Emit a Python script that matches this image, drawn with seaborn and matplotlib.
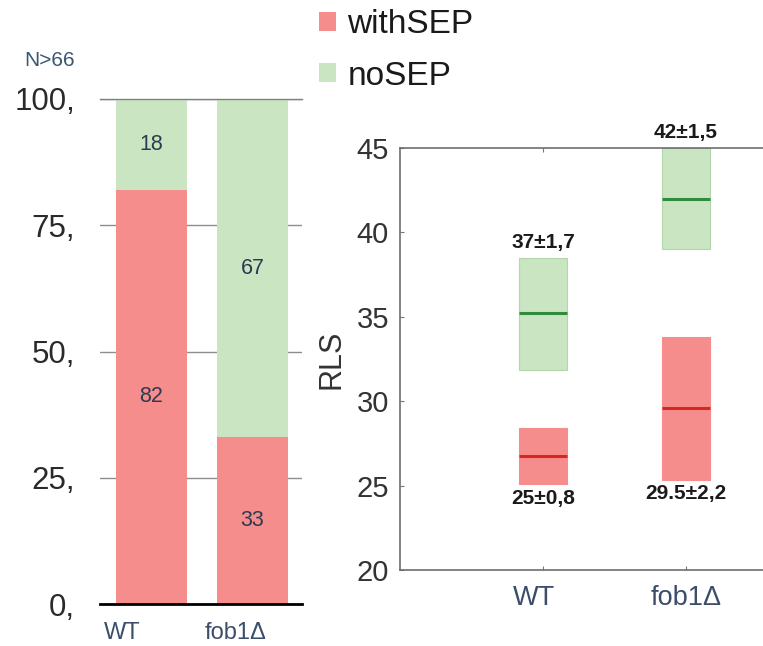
import matplotlib
matplotlib.use("Agg")
import matplotlib.pyplot as plt
import matplotlib.transforms as mtransforms
from matplotlib.patches import Patch
import seaborn as sns
import pandas as pd

# ---- data -------------------------------------------------------------
strains = ["WT", "fob1Δ"]
with_sep_pct = [82, 33]          # % of cells with SEP
no_sep_pct = [18, 67]            # % of cells without SEP
pct_ticks = [0, 25, 50, 75, 100]

# replicative lifespan (RLS) intervals per strain: low, median, high
no_sep_low = [31.85, 39.0]
no_sep_med = [35.2, 42.0]
no_sep_high = [38.5, 45.0]
with_sep_low = [25.07, 25.33]
with_sep_med = [26.75, 29.6]
with_sep_high = [28.43, 33.8]
no_sep_text = ["37±1,7", "42±1,5"]
with_sep_text = ["25±0,8", "29.5±2,2"]
rls_ticks = [20, 25, 30, 35, 40, 45]

RED = "#F48D8C"
GREEN = "#C9E5C1"
RED_LINE = "#D9261F"
GREEN_LINE = "#2F8C3C"
SLATE = "#3C4D6A"

sns.set_theme(style="white")
plt.rcParams["font.family"] = ["Liberation Sans", "DejaVu Sans"]

fig = plt.figure(figsize=(7.63, 6.46), dpi=100)
W, H = 763, 646
axL = fig.add_axes([100 / W, 42 / H, 202 / W, 505 / H])
axR = fig.add_axes([400 / W, 76 / H, 429 / W, 422 / H])

# ---- left: stacked percentage bars ------------------------------------
df = pd.DataFrame({"strain": strains, "with": with_sep_pct, "no": no_sep_pct})
df["total"] = df["with"] + df["no"]
sns.barplot(data=df, x="strain", y="total", color=GREEN, saturation=1,
            width=0.71, ax=axL, zorder=2, linewidth=0)
sns.barplot(data=df, x="strain", y="with", color=RED, saturation=1,
            width=0.71, ax=axL, zorder=2, linewidth=0)
for i, (w, n) in enumerate(zip(df["with"], df["no"])):
    axL.text(i, w / 2, f"{w}", ha="center", va="center", fontsize=15.5,
             color="#2E3A52", zorder=3)
    axL.text(i, w + n / 2, f"{n}", ha="center", va="center", fontsize=15.5,
             color="#2E3A52", zorder=3)

axL.set_xlim(-0.51, 1.49)
axL.set_ylim(0, 100)
axL.set_yticks(pct_ticks)
axL.set_yticklabels([f"{v}," for v in pct_ticks])
axL.yaxis.grid(True, color="#8E8E8E", lw=1.0)
axL.set_axisbelow(True)
axL.tick_params(axis="y", length=0, pad=18, labelsize=22.5, labelcolor="#2A2A2A")
axL.tick_params(axis="x", length=0, pad=13, labelsize=17, labelcolor=SLATE)
for lab in axL.get_xticklabels():
    lab.set_ha("left")
    lab.set_transform(lab.get_transform() +
                      mtransforms.ScaledTranslation(-48 / 100, 0, fig.dpi_scale_trans))
axL.set_xlabel("")
axL.set_ylabel("")
for s in ("left", "right"):
    axL.spines[s].set_visible(False)
axL.spines["top"].set_color("#808080")
axL.spines["top"].set_linewidth(1.0)
axL.spines["bottom"].set_color("black")
axL.spines["bottom"].set_linewidth(2.0)

fig.text(24 / W, 1 - 61 / H, "N>66", fontsize=15, color="#3A5670",
         ha="left", va="center")

# ---- right: RLS intervals ---------------------------------------------
pos = [1, 2]
bw = 0.33
axR.bar(pos, [h - l for h, l in zip(no_sep_high, no_sep_low)], bottom=no_sep_low,
        width=bw, color=GREEN, edgecolor="#B5D6AA", lw=0.8, zorder=2)
axR.bar(pos, [h - l for h, l in zip(with_sep_high, with_sep_low)], bottom=with_sep_low,
        width=bw, color=RED, edgecolor=RED, lw=0.8, zorder=2)
axR.hlines(no_sep_med, [p - bw / 2 for p in pos], [p + bw / 2 for p in pos],
           color=GREEN_LINE, lw=2.2, zorder=3)
axR.hlines(with_sep_med, [p - bw / 2 for p in pos], [p + bw / 2 for p in pos],
           color=RED_LINE, lw=2.2, zorder=3)

for p, hi, t in zip(pos, no_sep_high, no_sep_text):
    axR.annotate(t, (p, hi), xytext=(0, 4), textcoords="offset points",
                 ha="center", va="bottom", fontsize=15, fontweight="bold",
                 color="#1A1A1A", annotation_clip=False)
for p, lo, t in zip(pos, with_sep_low, with_sep_text):
    axR.annotate(t, (p, lo), xytext=(0, -3), textcoords="offset points",
                 ha="center", va="top", fontsize=15, fontweight="bold",
                 color="#1A1A1A", annotation_clip=False)

axR.set_xlim(0, 3)
axR.set_ylim(20, 45)
axR.set_yticks(rls_ticks)
axR.set_xticks(pos)
axR.set_xticklabels(strains)
axR.tick_params(axis="y", direction="in", length=3, width=0.8, color="#777777",
                left=True, pad=8, labelsize=21, labelcolor="#333333")
axR.tick_params(axis="x", direction="in", length=3, width=0.8, color="#777777",
                bottom=True, top=True, pad=11, labelsize=19.5, labelcolor=SLATE)
wt_label = axR.get_xticklabels()[0]
wt_label.set_transform(wt_label.get_transform() +
                       mtransforms.ScaledTranslation(-9 / 100, 0, fig.dpi_scale_trans))
axR.set_ylabel("RLS", fontsize=22, color="#333333")
axR.yaxis.set_label_coords(-0.124, 0.5)
axR.spines["right"].set_visible(False)
for s in ("left", "top", "bottom"):
    axR.spines[s].set_color("#6E6E6E")
    axR.spines[s].set_linewidth(1.2)

# ---- legend -------------------------------------------------------------
handles = [Patch(facecolor=RED, edgecolor="none"),
           Patch(facecolor=GREEN, edgecolor="none")]
fig.legend(handles, ["withSEP", "noSEP"], loc="upper left",
           bbox_to_anchor=(319 / W, 1 - 9 / H), frameon=False, fontsize=24,
           handlelength=0.5, handleheight=0.5, handletextpad=0.35,
           labelspacing=0.62, borderpad=0, borderaxespad=0,
           labelcolor="#1A1A1A")

fig.savefig("out.png", dpi=100)
